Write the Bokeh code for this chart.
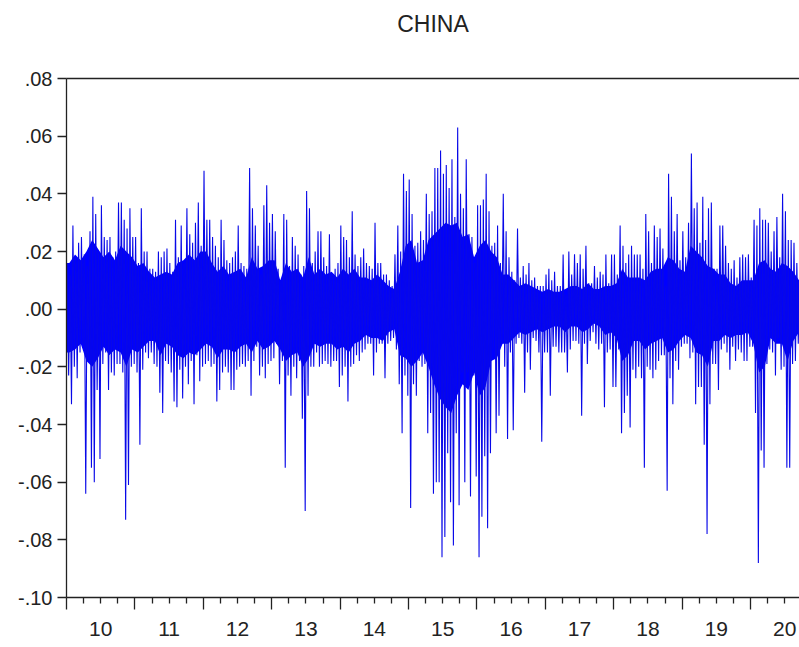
from bokeh.plotting import figure
from bokeh.models import LinearAxis, FixedTicker, Range1d
from bokeh.embed import file_html
from bokeh.resources import INLINE

# ---- data: daily-return extremes (4 readings per month) ----
ret_2010 = [0.016, -0.023, 0.012, -0.033,  0.029, -0.020, 0.018, -0.024,  0.023, -0.015, 0.025, -0.012,
            0.019, -0.064, 0.015, -0.018,  0.027, -0.055, 0.039, -0.060,  0.033, -0.028, 0.020, -0.052,
            0.036, -0.019, 0.025, -0.015,  0.024, -0.028, 0.025, -0.022,  0.018, -0.023, 0.020, -0.019,
            0.037, -0.019, 0.037, -0.022,  0.031, -0.073, 0.028, -0.061,  0.035, -0.020, 0.025, -0.019]
ret_2011 = [0.025, -0.022, 0.016, -0.047,  0.035, -0.021, 0.020, -0.015,  0.020, -0.017, 0.014, -0.015,
            0.014, -0.019, 0.013, -0.020,  0.020, -0.029, 0.018, -0.036,  0.020, -0.018, 0.021, -0.019,
            0.016, -0.022, 0.013, -0.032,  0.031, -0.034, 0.018, -0.021,  0.029, -0.031, 0.016, -0.020,
            0.035, -0.026, 0.026, -0.018,  0.023, -0.033, 0.030, -0.016,  0.037, -0.025, 0.022, -0.020]
ret_2012 = [0.048, -0.019, 0.031, -0.018,  0.031, -0.020, 0.025, -0.019,  0.022, -0.032, 0.018, -0.028,
            0.031, -0.022, 0.024, -0.020,  0.017, -0.022, 0.016, -0.028,  0.018, -0.028, 0.020, -0.021,
            0.029, -0.020, 0.016, -0.019,  0.015, -0.020, 0.014, -0.018,  0.049, -0.030, 0.035, -0.018,
            0.029, -0.013, 0.022, -0.023,  0.012, -0.020, 0.036, -0.024,  0.043, -0.019, 0.030, -0.018]
ret_2013 = [0.033, -0.017, 0.027, -0.012,  0.014, -0.026, 0.010, -0.018,  0.033, -0.055, 0.031, -0.023,
            0.015, -0.030, 0.025, -0.020,  0.022, -0.024, 0.019, -0.018,  0.012, -0.038, 0.015, -0.070,
            0.041, -0.030, 0.035, -0.020,  0.016, -0.020, 0.020, -0.015,  0.027, -0.020, 0.027, -0.019,
            0.018, -0.018, 0.015, -0.019,  0.026, -0.020, 0.012, -0.018,  0.014, -0.018, 0.016, -0.027]
ret_2014 = [0.029, -0.023, 0.025, -0.020,  0.024, -0.032, 0.018, -0.020,  0.034, -0.019, 0.019, -0.016,
            0.015, -0.018, 0.018, -0.015,  0.021, -0.014, 0.016, -0.012,  0.015, -0.012, 0.014, -0.023,
            0.030, -0.015, 0.016, -0.012,  0.016, -0.012, 0.012, -0.024,  0.012, -0.012, 0.010, -0.011,
            0.008, -0.010, 0.019, -0.014,  0.029, -0.026, 0.020, -0.043,  0.047, -0.023, 0.041, -0.030]
ret_2015 = [0.045, -0.069, 0.033, -0.026,  0.022, -0.030, 0.023, -0.018,  0.027, -0.020, 0.024, -0.019,
            0.040, -0.043, 0.033, -0.036,  0.034, -0.064, 0.049, -0.060,  0.049, -0.060, 0.055, -0.086,
            0.047, -0.079, 0.050, -0.050,  0.042, -0.067, 0.052, -0.082,  0.032, -0.043, 0.063, -0.068,
            0.040, -0.022, 0.035, -0.060,  0.052, -0.022, 0.026, -0.065,  0.025, -0.023, 0.016, -0.058]
ret_2016 = [0.036, -0.086, 0.036, -0.072,  0.038, -0.051, 0.047, -0.076,  0.034, -0.050, 0.022, -0.014,
            0.023, -0.043, 0.029, -0.037,  0.016, -0.012, 0.040, -0.020,  0.027, -0.045, 0.018, -0.015,
            0.013, -0.042, 0.010, -0.012,  0.028, -0.010, 0.011, -0.012,  0.015, -0.029, 0.012, -0.015,
            0.016, -0.021, 0.010, -0.010,  0.011, -0.011, 0.008, -0.015,  0.008, -0.046, 0.008, -0.015]
ret_2017 = [0.012, -0.015, 0.014, -0.030,  0.010, -0.013, 0.013, -0.013,  0.008, -0.015, 0.008, -0.015,
            0.019, -0.015, 0.005, -0.022,  0.020, -0.014, 0.012, -0.011,  0.019, -0.011, 0.016, -0.012,
            0.019, -0.037, 0.014, -0.012,  0.022, -0.019, 0.009, -0.011,  0.009, -0.008, 0.015, -0.012,
            0.011, -0.014, 0.013, -0.012,  0.012, -0.034, 0.019, -0.015,  0.009, -0.014, 0.019, -0.027]
ret_2018 = [0.019, -0.027, 0.012, -0.014,  0.029, -0.043, 0.022, -0.036,  0.016, -0.030, 0.019, -0.041,
            0.022, -0.021, 0.019, -0.024,  0.019, -0.020, 0.019, -0.024,  0.014, -0.055, 0.033, -0.020,
            0.027, -0.021, 0.016, -0.024,  0.029, -0.021, 0.025, -0.018,  0.028, -0.016, 0.021, -0.016,
            0.008, -0.063, 0.047, -0.024,  0.039, -0.033, 0.027, -0.018,  0.033, -0.021, 0.017, -0.013]
ret_2019 = [0.027, -0.012, 0.018, -0.012,  0.030, -0.017, 0.054, -0.015,  0.035, -0.033, 0.037, -0.027,
            0.023, -0.027, 0.039, -0.047,  0.024, -0.078, 0.035, -0.033,  0.037, -0.019, 0.014, -0.019,
            0.014, -0.028, 0.029, -0.014,  0.029, -0.012, 0.022, -0.015,  0.016, -0.021, 0.014, -0.013,
            0.017, -0.018, 0.011, -0.014,  0.018, -0.015, 0.019, -0.018,  0.018, -0.018, 0.019, -0.013]
ret_2020 = [0.011, -0.013, 0.031, -0.036,  0.029, -0.088, 0.035, -0.049,  0.031, -0.055, 0.031, -0.019,
            0.030, -0.014, 0.020, -0.015,  0.027, -0.023, 0.032, -0.010,  0.018, -0.021, 0.040, -0.020,
            0.034, -0.055, 0.024, -0.055,  0.024, -0.019, 0.023, -0.018,  0.016, -0.012, 0.014, -0.010]

series_by_year = {2010: ret_2010, 2011: ret_2011, 2012: ret_2012, 2013: ret_2013, 2014: ret_2014,
                  2015: ret_2015, 2016: ret_2016, 2017: ret_2017, 2018: ret_2018, 2019: ret_2019,
                  2020: ret_2020}
readings_per_month = 4

# solid body of the band, read per month (Jan 2010 .. Sep 2020)
body_upper = [0.016, 0.019, 0.017, 0.020, 0.024, 0.021, 0.018, 0.020, 0.017, 0.022, 0.020, 0.018,
              0.015, 0.016, 0.013, 0.011, 0.012, 0.013, 0.012, 0.016, 0.017, 0.019, 0.017, 0.020,
              0.020, 0.016, 0.013, 0.015, 0.012, 0.013, 0.014, 0.011, 0.018, 0.014, 0.015, 0.017,
              0.017, 0.010, 0.016, 0.013, 0.014, 0.011, 0.018, 0.012, 0.014, 0.012, 0.013, 0.011,
              0.014, 0.012, 0.014, 0.011, 0.011, 0.010, 0.012, 0.010, 0.008, 0.007, 0.013, 0.022,
              0.024, 0.016, 0.017, 0.024, 0.026, 0.028, 0.030, 0.029, 0.030, 0.025, 0.026, 0.018,
              0.022, 0.024, 0.020, 0.018, 0.012, 0.012, 0.010, 0.008, 0.009, 0.008, 0.007, 0.006,
              0.007, 0.006, 0.006, 0.007, 0.008, 0.008, 0.007, 0.009, 0.007, 0.007, 0.008, 0.008,
              0.009, 0.014, 0.011, 0.011, 0.011, 0.010, 0.013, 0.014, 0.014, 0.018, 0.017, 0.014,
              0.013, 0.022, 0.020, 0.018, 0.015, 0.014, 0.012, 0.012, 0.009, 0.008, 0.010, 0.010,
              0.010, 0.016, 0.017, 0.014, 0.013, 0.016, 0.015, 0.013, 0.010]
body_lower = [-0.015, -0.014, -0.012, -0.018, -0.020, -0.017, -0.013, -0.016, -0.014, -0.015, -0.020, -0.014,
              -0.015, -0.013, -0.011, -0.011, -0.016, -0.012, -0.013, -0.016, -0.017, -0.015, -0.016, -0.014,
              -0.012, -0.013, -0.017, -0.014, -0.014, -0.015, -0.013, -0.012, -0.015, -0.011, -0.014, -0.013,
              -0.011, -0.014, -0.018, -0.016, -0.015, -0.020, -0.017, -0.012, -0.013, -0.012, -0.012, -0.014,
              -0.013, -0.015, -0.012, -0.011, -0.009, -0.010, -0.010, -0.011, -0.008, -0.007, -0.016, -0.017,
              -0.020, -0.018, -0.015, -0.020, -0.026, -0.031, -0.034, -0.036, -0.030, -0.026, -0.028, -0.022,
              -0.030, -0.027, -0.018, -0.017, -0.012, -0.012, -0.010, -0.008, -0.009, -0.008, -0.007, -0.008,
              -0.007, -0.006, -0.006, -0.008, -0.006, -0.006, -0.008, -0.007, -0.005, -0.006, -0.009, -0.008,
              -0.010, -0.018, -0.016, -0.011, -0.011, -0.014, -0.012, -0.011, -0.010, -0.015, -0.014, -0.011,
              -0.009, -0.010, -0.015, -0.016, -0.020, -0.011, -0.011, -0.009, -0.010, -0.009, -0.009, -0.008,
              -0.012, -0.022, -0.020, -0.010, -0.012, -0.012, -0.018, -0.011, -0.008]

year_labels = ["10", "11", "12", "13", "14", "15", "16", "17", "18", "19", "20"]
y_ticks = [-0.10, -0.08, -0.06, -0.04, -0.02, 0.00, 0.02, 0.04, 0.06, 0.08]
y_tick_labels = ["-.10", "-.08", "-.06", "-.04", "-.02", ".00", ".02", ".04", ".06", ".08"]

# ---- time positions ----
xs, ys = [], []
for yr, vals in series_by_year.items():
    for i, v in enumerate(vals):
        m, s = divmod(i, readings_per_month)
        xs.append(yr + (m + (s + 0.5) / readings_per_month) / 12.0)
        ys.append(v)

years = list(series_by_year.keys())
X_START, X_END = 2010.0, 2020.716
body_x = [X_START] + [2010 + (m + 0.5) / 12.0 for m in range(len(body_upper))] + [X_END]
body_hi = [body_upper[0]] + body_upper + [body_upper[-1]]
body_lo = [body_lower[0]] + body_lower + [body_lower[-1]]

FONT = "Liberation Sans"
INK = "#222222"
BLUE = "#0000FF"

p = figure(width=799, height=647, output_backend="svg", toolbar_location=None,
           x_range=Range1d(X_START, X_END), y_range=Range1d(-0.10, 0.08),
           x_axis_location=None, y_axis_location=None,
           min_border_left=66, min_border_right=0, min_border_top=78, min_border_bottom=50,
           background_fill_color="white", border_fill_color="white")
p.outline_line_color = None
p.grid.visible = False

p.varea(x=body_x, y1=body_lo, y2=body_hi, fill_color=BLUE)
p.line(xs, ys, line_color="#0808E8", line_width=1.1)

# left axis
yax = LinearAxis(ticker=FixedTicker(ticks=y_ticks),
                 major_label_overrides=dict(zip(y_ticks, y_tick_labels)),
                 major_tick_out=9, major_tick_in=0, minor_tick_line_color=None,
                 major_label_text_font=FONT, major_label_text_font_size="20px",
                 major_label_text_color=INK, major_label_standoff=5,
                 axis_line_color=INK, major_tick_line_color=INK,
                 axis_line_width=1.3, major_tick_line_width=1.3)
p.add_layout(yax, "left")

# top border line, carrying the chart title
top_ax = LinearAxis(ticker=FixedTicker(ticks=[]), major_tick_line_color=None,
                    minor_tick_line_color=None, major_label_text_font_size="0px",
                    major_label_standoff=0, axis_line_color=INK, axis_line_width=1.3,
                    axis_label="CHINA", axis_label_text_font=FONT,
                    axis_label_text_font_size="23px", axis_label_text_font_style="normal",
                    axis_label_text_color=INK, axis_label_standoff=42)
p.add_layout(top_ax, "above")

# bottom axis: year-boundary and quarter ticks
year_starts = years + [years[-1] + 1]
quarters = [y + q for y in years for q in (0.25, 0.5, 0.75)]
xax_ticks = LinearAxis(ticker=FixedTicker(ticks=year_starts, minor_ticks=quarters),
                       major_tick_out=12, major_tick_in=0, minor_tick_out=6, minor_tick_in=0,
                       major_label_overrides={y: "" for y in year_starts},
                       major_label_text_font_size="0px", major_label_standoff=0,
                       axis_line_color=INK, major_tick_line_color=INK,
                       minor_tick_line_color=INK,
                       axis_line_width=1.3, major_tick_line_width=1.3, minor_tick_line_width=1.3)
p.add_layout(xax_ticks, "below")

# bottom axis: year labels centred in each year
mid_years = [y + 0.5 for y in years]
xax_labels = LinearAxis(ticker=FixedTicker(ticks=mid_years, minor_ticks=[]),
                        major_label_overrides=dict(zip(mid_years, year_labels)),
                        major_tick_line_color=None, minor_tick_line_color=None,
                        axis_line_color=None,
                        major_label_text_font=FONT, major_label_text_font_size="21px",
                        major_label_text_color=INK, major_label_standoff=6)
p.add_layout(xax_labels, "below")

open("out.html", "w").write(file_html(p, INLINE))
